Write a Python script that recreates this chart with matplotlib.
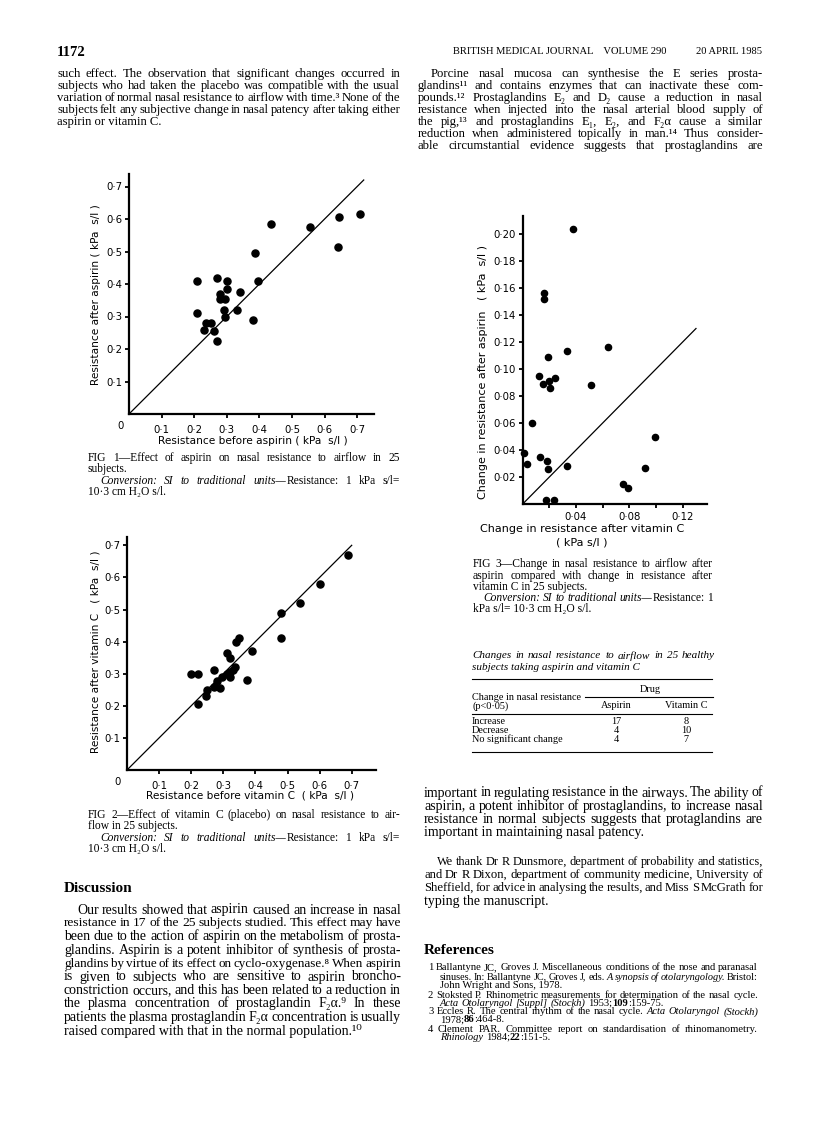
import matplotlib
matplotlib.use("Agg")
import matplotlib.pyplot as plt
from matplotlib.lines import Line2D

W, H = 816, 1121
SERIF = ['Liberation Serif', 'DejaVu Serif']
SANS = ['DejaVu Sans']

## data ##
fig1_before = [0.21, 0.21, 0.27, 0.30, 0.30, 0.28, 0.28, 0.295, 0.34, 0.29, 0.33, 0.295, 0.235,
               0.25, 0.23, 0.26, 0.27, 0.38, 0.385, 0.395, 0.435, 0.555, 0.64, 0.645, 0.71]
fig1_after = [0.41, 0.31, 0.42, 0.41, 0.385, 0.37, 0.355, 0.355, 0.375, 0.32, 0.32, 0.30, 0.28,
              0.28, 0.26, 0.255, 0.225, 0.29, 0.495, 0.41, 0.585, 0.575, 0.515, 0.605, 0.615]

fig2_before = [0.20, 0.22, 0.22, 0.245, 0.25, 0.27, 0.27, 0.28, 0.29, 0.295, 0.31, 0.32, 0.32,
               0.33, 0.335, 0.31, 0.32, 0.34, 0.35, 0.375, 0.39, 0.48, 0.48, 0.54, 0.60, 0.69]
fig2_after = [0.30, 0.30, 0.205, 0.23, 0.25, 0.26, 0.31, 0.277, 0.255, 0.29, 0.30, 0.305, 0.29,
              0.31, 0.32, 0.365, 0.35, 0.40, 0.41, 0.28, 0.37, 0.49, 0.41, 0.52, 0.58, 0.67]

fig3_vitc = [0.016, 0.016, 0.019, 0.033, 0.064, 0.012, 0.015, 0.020, 0.0205, 0.0245, 0.051, 0.007,
             0.001, 0.0035, 0.013, 0.0185, 0.019, 0.033, 0.0175, 0.0235, 0.0755, 0.079, 0.0915,
             0.0995, 0.0377]
fig3_asp = [0.156, 0.152, 0.109, 0.113, 0.116, 0.095, 0.089, 0.091, 0.086, 0.093, 0.088, 0.060,
            0.038, 0.030, 0.035, 0.032, 0.026, 0.028, 0.003, 0.003, 0.015, 0.012, 0.027, 0.050,
            0.204]

res_ticks = [0.1, 0.2, 0.3, 0.4, 0.5, 0.6, 0.7]
res_labels = ['0·1', '0·2', '0·3', '0·4', '0·5', '0·6', '0·7']
chg_yticks = [0.02, 0.04, 0.06, 0.08, 0.10, 0.12, 0.14, 0.16, 0.18, 0.20]
chg_ylabels = ['0·02', '0·04', '0·06', '0·08', '0·10', '0·12', '0·14', '0·16', '0·18', '0·20']
chg_xticks = [0.02, 0.04, 0.06, 0.08, 0.10, 0.12]
chg_xlabels = ['', '0·04', '', '0·08', '', '0·12']

table_rows = ['Increase', 'Decrease', 'No significant change']
table_aspirin = [17, 4, 4]
table_vitc = [8, 10, 7]

fig = plt.figure(figsize=(W / 100, H / 100), dpi=100)
fig.patch.set_facecolor('white')
renderer = fig.canvas.get_renderer()


def fx(x):
    return x / W


def fy(y):
    return 1 - y / H


def words_at(y, s, size, style, weight, family):
    # each word may be several pieces joined by '|'; '*' = italic, '!' = bold
    words = []
    for w in s.split():
        pieces = []
        for p in w.split('|'):
            st, wt = style, weight
            if p.startswith('*'):
                p, st = p[1:], 'italic'
            if p.startswith('!'):
                p, wt = p[1:], 'bold'
            pieces.append(fig.text(0, fy(y), p, fontsize=size, style=st, weight=wt,
                                   family=family, va='center'))
        words.append(pieces)
    return words


def line(x0, y, s, size=8.5, x1=None, style='normal', weight='normal', family=SERIF, ha='left'):
    # one line of page text; justified between x0 and x1 when x1 is given
    if x1 is None and not any(c in s for c in '*!|'):
        return fig.text(fx(x0), fy(y), s, fontsize=size, style=style, weight=weight,
                        family=family, va='center', ha=ha)
    space = size * 0.25 * 100 / 72
    while True:
        words = words_at(y, s, size, style, weight, family)
        pw = [[p.get_window_extent(renderer).width for p in w] for w in words]
        total = sum(sum(w) for w in pw)
        if x1 is None:
            gap = space
            break
        gap = (x1 - x0 - total) / max(len(words) - 1, 1)
        if gap >= 0.6 * space or size < 5:
            break
        for w in words:
            for p in w:
                p.remove()
        size *= 0.97
        space = size * 0.25 * 100 / 72
    x = x0
    for w, ws in zip(words, pw):
        for p, wd in zip(w, ws):
            p.set_x(fx(x))
            x += wd
        x += gap


def hline(x0, x1, y, lw=0.8):
    fig.add_artist(Line2D([fx(x0), fx(x1)], [fy(y), fy(y)], color='black', lw=lw,
                          transform=fig.transFigure))


def make_axes(left, bottom, xmax, ymax, sx, sy):
    ax = fig.add_axes([fx(left), fy(bottom), xmax * sx / W, ymax * sy / H])
    ax.set_xlim(0, xmax)
    ax.set_ylim(0, ymax)
    for sp in ['top', 'right']:
        ax.spines[sp].set_visible(False)
    for sp in ['left', 'bottom']:
        ax.spines[sp].set_linewidth(1.6)
    ax.tick_params(direction='out', length=3, width=1.3, labelsize=7, pad=2)
    ax.patch.set_alpha(0)
    return ax


## FIG 1 ##
ax1 = make_axes(129, 414, 0.75, 0.74, 326, 325)
ax1.plot([0, 0.72], [0, 0.72], color='black', lw=0.9)
ax1.scatter(fig1_before, fig1_after, s=26, color='black', zorder=3, clip_on=False)
ax1.set_xticks(res_ticks, res_labels, family=SANS, fontsize=7.3)
ax1.set_yticks(res_ticks, res_labels, family=SANS, fontsize=7.3)
ax1.tick_params(axis='x', pad=5)
fig.text(fx(121), fy(426), '0', fontsize=7.3, family=SANS, va='center', ha='center')
fig.text(fx(253), fy(441), 'Resistance before aspirin ( kPa  s/l )', fontsize=7.6,
         family=SANS, ha='center', va='center')
fig.text(fx(96), fy(295), 'Resistance after aspirin ( kPa  s/l )', fontsize=7.6,
         family=SANS, ha='center', va='center', rotation=90)

## FIG 2 ##
ax2 = make_axes(127, 770, 0.775, 0.726, 321, 321)
ax2.plot([0, 0.70], [0, 0.70], color='black', lw=0.9)
ax2.scatter(fig2_before, fig2_after, s=26, color='black', zorder=3, clip_on=False)
ax2.set_xticks(res_ticks, res_labels, family=SANS, fontsize=7.3)
ax2.set_yticks(res_ticks, res_labels, family=SANS, fontsize=7.3)
ax2.tick_params(axis='x', pad=5)
fig.text(fx(118), fy(782), '0', fontsize=7.3, family=SANS, va='center', ha='center')
fig.text(fx(250), fy(795), 'Resistance before vitamin C  ( kPa  s/l )', fontsize=7.6,
         family=SANS, ha='center', va='center')
fig.text(fx(96), fy(652), 'Resistance after vitamin C   ( kPa  s/l )', fontsize=7.6,
         family=SANS, ha='center', va='center', rotation=90)

## FIG 3 ##
ax3 = make_axes(522.7, 504, 0.1385, 0.213, 1333, 1350)
ax3.plot([0, 0.13], [0, 0.13], color='black', lw=0.9)
ax3.scatter(fig3_vitc, fig3_asp, s=20, color='black', zorder=3, clip_on=False)
ax3.set_xticks(chg_xticks, chg_xlabels, family=SANS, fontsize=7.3)
ax3.set_yticks(chg_yticks, chg_ylabels, family=SANS, fontsize=7.3)
ax3.tick_params(axis='x', pad=3)
fig.text(fx(582), fy(529), 'Change in resistance after vitamin C', fontsize=8,
         family=SANS, ha='center', va='center')
fig.text(fx(582), fy(543), '( kPa s/l )', fontsize=8, family=SANS, ha='center', va='center')
fig.text(fx(483), fy(372), 'Change in resistance after aspirin   ( kPa  s/l )', fontsize=8,
         family=SANS, ha='center', va='center', rotation=90)

## page header ##
line(57, 52, '1172', size=10.5, weight='bold')
line(453, 52, 'BRITISH MEDICAL JOURNAL    VOLUME 290', size=7.6)
line(762, 52, '20 APRIL 1985', size=7.6, ha='right')

## left column top text ##
body = 9.1
left_top = ['such effect. The observation that significant changes occurred in',
            'subjects who had taken the placebo was compatible with the usual',
            'variation of normal nasal resistance to airflow with time.³ None of the',
            'subjects felt any subjective change in nasal patency after taking either']
for i, s in enumerate(left_top):
    line(57, 74 + 12 * i, s, size=body, x1=400)
line(57, 122, 'aspirin or vitamin C.', size=body)

## right column top text ##
right_top = ['glandins¹¹ and contains enzymes that can inactivate these com-',
             'pounds.¹² Prostaglandins E₂ and D₂ cause a reduction in nasal',
             'resistance when injected into the nasal arterial blood supply of',
             'the pig,¹³ and prostaglandins E₁, E₂, and F₂α cause a similar',
             'reduction when administered topically in man.¹⁴ Thus consider-',
             'able circumstantial evidence suggests that prostaglandins are']
line(431, 74, 'Porcine nasal mucosa can synthesise the E series prosta-', size=body, x1=763)
for i, s in enumerate(right_top):
    line(418, 86 + 12 * i, s, size=body, x1=763)

## captions ##
cap = 8.3
line(88, 458, 'FIG 1—Effect of aspirin on nasal resistance to airflow in 25', size=cap, x1=400)
line(88, 469, 'subjects.', size=cap)
line(100, 481, '*Conversion: *SI *to *traditional *units—|Resistance: 1 kPa s/l=', size=cap, x1=400)
line(88, 492, '10·3 cm H₂O s/l.', size=cap)

line(88, 815, 'FIG 2—Effect of vitamin C (placebo) on nasal resistance to air-', size=cap, x1=400)
line(88, 826, 'flow in 25 subjects.', size=cap)
line(100, 838, '*Conversion: *SI *to *traditional *units—|Resistance: 1 kPa s/l=', size=cap, x1=400)
line(88, 849, '10·3 cm H₂O s/l.', size=cap)

line(473, 564, 'FIG 3—Change in nasal resistance to airflow after', size=cap, x1=713)
line(473, 576, 'aspirin compared with change in resistance after', size=cap, x1=713)
line(473, 587, 'vitamin C in 25 subjects.', size=cap)
line(483, 598, '*Conversion: *SI *to *traditional *units—|Resistance: 1', size=cap, x1=713)
line(473, 609, 'kPa s/l= 10·3 cm H₂O s/l.', size=cap)

## table ##
tsz = 7.4
line(472, 656, 'Changes in nasal resistance to airflow in 25 healthy', size=8, x1=715,
     style='italic')
line(472, 668, 'subjects taking aspirin and vitamin C', size=8, style='italic')
hline(472, 712, 679)
line(650, 690, 'Drug', size=tsz, ha='center')
hline(585, 713, 697)
line(472, 697, 'Change in nasal resistance', size=tsz)
line(472, 706, '(p<0·05)', size=tsz)
line(616, 706, 'Aspirin', size=tsz, ha='center')
line(686, 706, 'Vitamin C', size=tsz, ha='center')
hline(472, 712, 714)
for i, (r, a, v) in enumerate(zip(table_rows, table_aspirin, table_vitc)):
    y = 722 + 8.6 * i
    line(472, y, r, size=tsz)
    line(616, y, str(a), size=tsz, ha='center')
    line(686, y, str(v), size=tsz, ha='center')
hline(472, 712, 752)

## right column lower text ##
big = 10
right_low = ['important in regulating resistance in the airways. The ability of',
             'aspirin, a potent inhibitor of prostaglandins, to increase nasal',
             'resistance in normal subjects suggests that protaglandins are']
for i, s in enumerate(right_low):
    line(424, 793 + 13.2 * i, s, size=big, x1=763)
line(424, 832.6, 'important in maintaining nasal patency.', size=big)

thanks = ['We thank Dr R Dunsmore, department of probability and statistics,',
          'and Dr R Dixon, department of community medicine, University of',
          'Sheffield, for advice in analysing the results, and Miss S McGrath for']
line(437, 862, thanks[0], size=big, x1=763)
for i, s in enumerate(thanks[1:]):
    line(424, 875 + 13 * i, s, size=big, x1=763)
line(424, 901, 'typing the manuscript.', size=big)

line(424, 950, 'References', size=11, weight='bold')
ref = 7.6
refs = [(428, 968, '1 Ballantyne JC, Groves J. Miscellaneous conditions of the nose and paranasal', True),
        (440, 977, 'sinuses. In: Ballantyne JC, Groves J, eds. *A *synopsis *of *otolaryngology. Bristol:', True),
        (440, 986, 'John Wright and Sons, 1978.', False),
        (428, 995, '2 Stoksted P. Rhinometric measurements for determination of the nasal cycle.', True),
        (440, 1003, '*Acta *Otolaryngol *[Suppl] *(Stockh) 1953;|!109|:159-75.', False),
        (428, 1012, '3 Eccles R. The central rhythm of the nasal cycle. *Acta *Otolaryngol *(Stockh)', True),
        (440, 1020, '1978;|!86|:464-8.', False),
        (428, 1029, '4 Clement PAR. Committee report on standardisation of rhinomanometry.', True),
        (440, 1037, '*Rhinology 1984;|!22|:151-5.', False)]
for x0, y, s, just in refs:
    line(x0, y, s, size=ref, x1=758 if just else None)

## Discussion ##
line(64, 889, 'Discussion', size=11, weight='bold')
disc = ['Our results showed that aspirin caused an increase in nasal',
        'resistance in 17 of the 25 subjects studied. This effect may have',
        'been due to the action of aspirin on the metabolism of prosta-',
        'glandins. Aspirin is a potent inhibitor of synthesis of prosta-',
        'glandins by virtue of its effect on cyclo-oxygenase.⁸ When aspirin',
        'is given to subjects who are sensitive to aspirin broncho-',
        'constriction occurs, and this has been related to a reduction in',
        'the plasma concentration of prostaglandin F₂α.⁹ In these',
        'patients the plasma prostaglandin F₂α concentration is usually']
for i, s in enumerate(disc):
    x0 = 77 if i == 0 else 64
    line(x0, 910 + 13.4 * i, s, size=big, x1=401)
line(64, 1030.6, 'raised compared with that in the normal population.¹⁰', size=big)

fig.savefig('out.png', dpi=100, facecolor='white')
